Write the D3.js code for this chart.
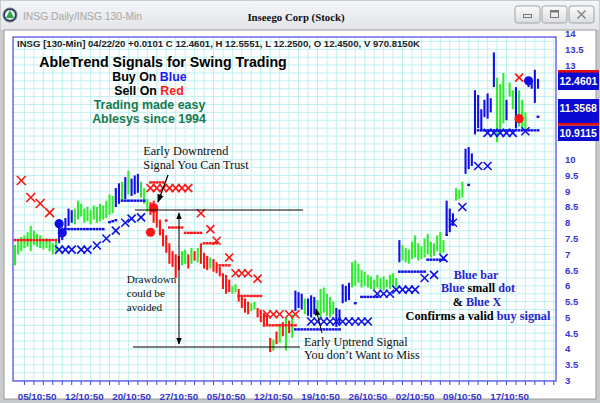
<!DOCTYPE html>
<html><head><meta charset="utf-8">
<script src="https://cdn.jsdelivr.net/npm/d3@7"></script>
<style>body{margin:0;background:#fff}svg{display:block}</style>
</head><body>
<svg id="c" width="600" height="403"></svg>
<script>
// ---------- DATA ----------
const barColors = ("gggggggggg ggggbbbbbg gggggggggg ggbbgbgbbb gggrrrrrrr rrrggrgrgr rrgrrrrrrg grrrrggrrr rrgrgrgrgb bbgbbbgggg ggbbbbbggg gggggggggg ggbggggggg gggggggbbb gggbbbbbbb bbbgggbggb gggbbbb").replace(/ /g,"");
const barLow = [6.65,7.00,7.10,7.20,7.25,7.10,7.30,7.25,7.20,7.15,
 7.20,7.10,7.00,7.10,7.35,7.45,7.80,7.90,8.00,7.95,
 8.10,8.20,8.00,8.05,7.95,8.10,8.00,8.05,8.10,8.15,
 8.25,8.30,8.50,8.60,8.70,8.75,8.90,8.85,8.90,8.95,
 8.80,8.60,8.35,8.25,8.00,7.85,7.60,7.25,7.05,6.70,
 6.60,6.25,6.50,6.65,6.70,6.55,6.70,6.80,6.75,6.70,
 6.55,6.50,6.55,6.45,6.40,6.30,5.90,5.75,5.80,5.75,
 5.80,5.50,5.30,5.15,5.10,5.20,5.25,5.00,4.85,4.70,
 4.75,3.90,3.95,4.15,4.20,4.40,3.95,4.50,4.35,5.20,
 5.30,5.25,5.10,5.05,5.00,5.10,5.05,5.00,5.15,5.05,
 5.00,5.10,4.70,4.80,5.45,5.50,5.55,5.95,6.00,6.10,
 5.95,6.00,5.95,5.90,5.85,5.95,5.90,5.85,5.95,5.90,
 6.00,5.95,6.75,6.80,6.75,6.70,6.85,6.90,6.80,6.85,
 6.90,7.00,6.90,6.95,7.10,7.00,7.05,7.65,7.70,7.90,
 8.70,8.75,8.80,9.55,9.70,9.80,10.80,11.00,10.90,11.35,
 11.30,11.50,12.30,10.55,10.90,11.15,11.25,12.00,11.60,11.00,
 11.05,11.00,10.95,12.30,12.25,11.80,12.25];
const barHigh = [7.30,7.45,7.55,7.60,7.70,7.90,7.75,7.65,7.60,7.50,
 7.50,7.45,7.35,7.45,8.05,7.85,8.15,8.45,8.40,8.45,
 8.70,8.60,8.45,8.50,8.40,8.55,8.50,8.60,8.55,8.70,
 8.90,8.85,9.10,9.25,9.30,9.45,9.65,9.40,9.50,9.55,
 9.30,9.10,8.75,8.65,8.70,8.55,8.10,7.80,7.60,7.35,
 7.10,7.00,6.95,7.10,7.15,7.00,7.20,7.10,7.20,7.35,
 7.05,6.95,6.90,6.85,6.75,6.60,6.40,6.35,6.20,6.00,
 6.05,5.90,5.70,5.60,5.50,5.45,5.50,5.30,5.25,5.15,
 5.05,4.35,4.30,4.55,4.80,4.85,5.00,4.90,5.10,5.85,
 5.80,5.75,5.60,5.60,5.70,5.65,5.55,5.90,5.95,5.75,
 5.65,5.50,5.30,5.25,6.05,6.00,6.10,6.75,6.80,6.70,
 6.50,6.45,6.35,6.30,6.20,6.35,6.25,6.30,6.20,6.35,
 6.40,6.25,7.45,7.30,7.20,7.15,7.40,7.60,7.35,7.25,
 7.50,7.65,7.40,7.35,7.60,7.70,7.45,8.70,8.45,8.30,
 9.10,9.05,9.30,10.35,10.40,10.20,12.20,12.05,11.60,11.90,
 12.10,11.95,13.40,12.60,12.40,12.75,11.90,12.45,12.20,12.30,
 12.20,11.90,11.50,12.55,12.50,12.85,12.56];
// small stop dots: [fromBar, toBar, level]
const redDotRuns = [[0,13,7.45],[43,47,9.28],[48,48,8.07],[49,53,7.85],[54,59,7.68],[60,64,7.35],[65,68,6.65],[71,78,5.68],[80,89,4.75]];
const blueDotRuns = [[16,28,7.80],[30,30,8.02],[31,31,8.05],[32,32,8.08],[34,41,8.70],[89,103,4.62],[108,108,5.45],[110,115,5.65],[122,130,6.45],[131,136,6.83],[137,137,7.62],[144,144,9.20],[147,166,10.93],[166,166,11.36]];
// X stops: [bar, level]
const redX = [[2,9.34],[5,8.80],[8,8.61],[11,8.32],[43,9.10],[45,9.10],[47,9.10],[49,9.10],[51,9.10],[53,9.10],[55,9.10],
 [59,8.30],[62,7.80],[64,7.43],[68,6.90],[70,6.40],[72,6.40],[74,6.40],[77,6.23],[80,5.10],[82,5.10],[84,5.10],[87,5.10],[89,5.10],[160,12.60]];
const blueX = [[14,7.15],[16,7.15],[18,7.15],[21,7.15],[23,7.15],[26,7.28],[29,7.50],[32,7.75],[35,8.00],[37,8.13],[40,8.17],
 [94,4.87],[96,4.87],[98,4.87],[100,4.87],[102,4.87],[104,4.87],[106,4.87],[108,4.87],[110,4.87],[112,4.87],
 [115,5.75],[117,5.75],[119,5.75],[121,5.88],[123,5.88],[125,5.88],[127,5.88],[130,6.25],[133,6.35],[136,6.88],
 [139,8.00],[142,8.50],[147,9.80],[150,9.80],[150,10.85],[152,10.85],[154,10.85],[156,10.85],[158,10.85],[162,10.90]];
// big signal dots: [bar, level]
const redBig = [[44,8.47],[43,7.70],[160,11.30]];
const blueBig = [[14,7.97],[15,7.68],[163,12.50]];
// axes
const priceTicks = d3.range(3, 14.01, 0.5);
const dateTickBars = [7,22,37,52,67,82,97,112,127,142,157];
const dateTickLabels = ["05/10:50","12/10:50","20/10:50","27/10:50","05/10:50","12/10:50","19/10:50","26/10:50","02/10:50","09/10:50","17/10:50"];
const lastValues = [{v:"12.4601",y0:72,y1:90,red:70,fill:"#fff"},{v:"11.3568",y0:99,y1:123,ty:108,fill:"#fffbe0"},{v:"10.9115",y0:125.5,y1:141,red:123,fill:"#fff"}];

// ---------- DRAW ----------
const svg = d3.select("#c");
const P = {l:13, r:556, t:37, b:381};
const x = d3.scaleLinear().domain([0,166]).range([15,538]);
const y = d3.scaleLinear().domain([3,14]).range([380.5,33.5]);
const COL = {g:"#30ea30", b:"#1010e6", r:"#ff1414"};
const defs = svg.append("defs");
const grad = defs.append("linearGradient").attr("id","tb").attr("x1",0).attr("y1",0).attr("x2",0).attr("y2",1);
grad.append("stop").attr("offset","0%").attr("stop-color","#f4f5f7");
grad.append("stop").attr("offset","100%").attr("stop-color","#e2e4e8");
const bgrad = defs.append("linearGradient").attr("id","btn").attr("x1",0).attr("y1",0).attr("x2",0).attr("y2",1);
bgrad.append("stop").attr("offset","0%").attr("stop-color","#fbfbfb");
bgrad.append("stop").attr("offset","100%").attr("stop-color","#dcdde0");
defs.append("marker").attr("id","ah").attr("viewBox","0 0 10 10").attr("refX",9).attr("refY",5)
  .attr("markerWidth",7).attr("markerHeight",7).attr("orient","auto-start-reverse")
  .append("path").attr("d","M0,1 L10,5 L0,9 Z").attr("fill","#000");
defs.append("clipPath").attr("id","pc").append("rect").attr("x",P.l).attr("y",P.t).attr("width",P.r-P.l).attr("height",P.b-P.t);

// window chrome
svg.append("rect").attr("width",600).attr("height",403).attr("fill","#c9cacc");
svg.append("rect").attr("x",1).attr("y",1).attr("width",598).attr("height",29).attr("fill","url(#tb)");
svg.append("rect").attr("x",4).attr("y",30).attr("width",592).attr("height",369).attr("fill","#fff").attr("stroke","#9a9a9a").attr("stroke-width",1);
// icon
svg.append("circle").attr("cx",10).attr("cy",15).attr("r",7).attr("fill","#2c3e56").attr("stroke","#6a7a8a");
svg.append("circle").attr("cx",10).attr("cy",15).attr("r",5).attr("fill","#e8eef4");
svg.append("path").attr("d","M10,10 L14,18 L6,18 Z").attr("fill","#2aa84a");
svg.append("text").attr("x",23).attr("y",20).attr("font-family","Liberation Sans, Arial").attr("font-size",10.3)
  .attr("fill","#a6a6a6").text("INSG Daily/INSG 130-Min");
svg.append("text").attr("x",296).attr("y",21).attr("text-anchor","middle").attr("font-family","Liberation Serif, Times New Roman")
  .attr("font-weight","bold").attr("font-size",10.8).attr("fill","#111").text("Inseego Corp (Stock)");
// buttons
[[515,"min"],[542,"max"],[569,"close"]].forEach(([bx,k])=>{
  svg.append("rect").attr("x",bx).attr("y",6).attr("width",25).attr("height",17).attr("rx",2.5)
    .attr("fill","url(#btn)").attr("stroke","#9fa3a8");
  const cx=bx+12.5, cy=14.5;
  if(k==="min") svg.append("rect").attr("x",cx-4).attr("y",cy).attr("width",8).attr("height",3).attr("fill","none").attr("stroke","#777");
  if(k==="max"){ svg.append("rect").attr("x",cx-4).attr("y",cy-4).attr("width",8).attr("height",7).attr("fill","none").attr("stroke","#777");
    svg.append("rect").attr("x",cx-4).attr("y",cy-4).attr("width",8).attr("height",2).attr("fill","#777");}
  if(k==="close") svg.append("path").attr("d",`M${cx-4},${cy-4}L${cx+4},${cy+4}M${cx+4},${cy-4}L${cx-4},${cy+4}`).attr("stroke","#888").attr("stroke-width",1.6);
});

// grid
const g = svg.append("g").attr("clip-path","url(#pc)");
g.selectAll(".hg").data(d3.range(3,14.01,0.25)).join("line")
  .attr("x1",P.l).attr("x2",P.r).attr("y1",d=>y(d)).attr("y2",d=>y(d)).attr("stroke","#bff0f0").attr("stroke-width",1);
g.selectAll(".vg").data(d3.range(3,172,3)).join("line")
  .attr("x1",d=>x(d)).attr("x2",d=>x(d)).attr("y1",P.t).attr("y2",P.b).attr("stroke","#bff0f0").attr("stroke-width",1);

// bars
const bars = barLow.map((l,i)=>({i, l, h:barHigh[i], c:barColors[i]}));
g.selectAll(".bar").data(bars).join("line")
  .attr("x1",d=>x(d.i)).attr("x2",d=>x(d.i)).attr("y1",d=>y(d.l)).attr("y2",d=>y(d.h))
  .attr("stroke",d=>COL[d.c]).attr("stroke-width",2.1);

// small dots
function expand(runs){const o=[];runs.forEach(([a,b,v])=>{for(let i=a;i<=b;i++)o.push([i,v]);});return o;}
g.selectAll(".rd").data(expand(redDotRuns)).join("rect")
  .attr("x",d=>x(d[0])-1.4).attr("y",d=>y(d[1])-1.2).attr("width",2.8).attr("height",2.4).attr("fill",COL.r);
g.selectAll(".bd").data(expand(blueDotRuns)).join("rect")
  .attr("x",d=>x(d[0])-1.4).attr("y",d=>y(d[1])-1.2).attr("width",2.8).attr("height",2.4).attr("fill",COL.b);
// X marks
function xPath(d,s){const cx=x(d[0]),cy=y(d[1]);return `M${cx-s},${cy-s}L${cx+s},${cy+s}M${cx+s},${cy-s}L${cx-s},${cy+s}`;}
g.selectAll(".rx").data(redX).join("path").attr("d",d=>xPath(d,d[0]<12?4.5:4.0)).attr("stroke",COL.r).attr("stroke-width",1.6).attr("fill","none");
g.selectAll(".bx").data(blueX).join("path").attr("d",d=>xPath(d,4.0)).attr("stroke",COL.b).attr("stroke-width",1.6).attr("fill","none");
// big dots
g.selectAll(".rb").data(redBig).join("circle").attr("cx",d=>x(d[0])).attr("cy",d=>y(d[1])).attr("r",4.6).attr("fill",COL.r);
g.selectAll(".bb").data(blueBig).join("circle").attr("cx",d=>x(d[0])).attr("cy",d=>y(d[1])).attr("r",4.6).attr("fill",COL.b);

// plot frame
svg.append("rect").attr("x",P.l).attr("y",P.t).attr("width",P.r-P.l).attr("height",P.b-P.t)
  .attr("fill","none").attr("stroke","#4646e0").attr("stroke-width",1.2);
// bottom ticks
svg.selectAll(".bt").data(d3.range(3,172,3).filter(d=>x(d)<P.r)).join("line")
  .attr("x1",d=>x(d)).attr("x2",d=>x(d)).attr("y1",P.b).attr("y2",P.b+4).attr("stroke","#4646e0");
// date labels
svg.selectAll(".dl").data(dateTickBars).join("text")
  .attr("x",d=>x(d)).attr("y",400).attr("text-anchor","middle")
  .attr("font-family","Liberation Sans, Arial").attr("font-weight","bold").attr("font-size",9.8).attr("fill","#3535d0")
  .text((d,i)=>dateTickLabels[i]);
// price labels (those hidden behind last-value boxes are not drawn)
const visibleTicks = priceTicks.filter(d=>!lastValues.some(b=>y(d)>b.y0-6 && y(d)<b.y1+6));
svg.selectAll(".pl").data(visibleTicks).join("text")
  .attr("x",565).attr("y",d=>y(d)).attr("dy","0.36em")
  .attr("font-family","Liberation Sans, Arial").attr("font-weight","bold").attr("font-size",9.6).attr("fill","#3535d0")
  .text(d=>d3.format("")(d));
// last-value boxes
lastValues.forEach(b=>{
  svg.append("rect").attr("x",558).attr("y",b.y0).attr("width",41).attr("height",b.y1-b.y0).attr("fill","#0a0ad0");
  if(b.red) svg.append("rect").attr("x",558).attr("y",b.red).attr("width",41).attr("height",2.6).attr("fill","#e01010");
  svg.append("text").attr("x",559.5).attr("y",b.ty||((b.y0+b.y1)/2)).attr("dy","0.36em")
    .attr("font-family","Liberation Sans, Arial").attr("font-weight","bold").attr("font-size",10.5).attr("fill",b.fill).text(b.v);
});

// header info
svg.append("text").attr("x",17).attr("y",47.3).attr("font-family","Liberation Sans, Arial").attr("font-weight","bold")
  .attr("font-size",8.2).attr("fill","#222").attr("textLength",403).attr("lengthAdjust","spacingAndGlyphs")
  .text("INSG [130-Min] 04/22/20  +0.0101 C 12.4601, H 12.5551, L 12.2500, O 12.4500, V 970.8150K");

// legend text block
const sans = "Liberation Sans, Arial";
svg.append("text").attr("x",163).attr("y",66.8).attr("text-anchor","middle").attr("font-family",sans).attr("font-weight","bold")
  .attr("font-size",14.2).attr("fill","#000").text("AbleTrend Signals for Swing Trading");
function multi(xc,yb,parts,size,family){
  const t=svg.append("text").attr("x",xc).attr("y",yb).attr("text-anchor","middle").attr("font-family",family)
    .attr("font-weight","bold").attr("font-size",size);
  parts.forEach(([s,c])=>t.append("tspan").attr("fill",c).text(s));
}
multi(149.5,80.8,[["Buy On ","#000"],["Blue","#1a1af5"]],12.4,sans);
multi(149,94.9,[["Sell On ","#000"],["Red","#ff1a1a"]],12.4,sans);
multi(149.5,108.9,[["Trading made easy","#157a52"]],12.4,sans);
multi(149,122.9,[["Ablesys since 1994","#157a52"]],12.4,sans);

// annotations
const serif = "Liberation Serif, Times New Roman";
function note(xx,yy,s,size){svg.append("text").attr("x",xx).attr("y",yy).attr("font-family",serif).attr("font-size",size).attr("fill","#111").text(s);}
note(143.3,155.2,"Early Downtrend",12.3);
note(143.3,168.8,"Signal You Can Trust",12.3);
note(126.7,283,"Drawdown",11.2);
note(126.7,296.8,"could be",11.2);
note(126.7,310.6,"avoided",11.2);
note(304,345.6,"Early Uptrend Signal",12.2);
note(304,359.3,"You don\u2019t Want to Miss",12.2);
const BL="#2626d0";
multi(476,278.8,[["Blue bar",BL]],12.1,serif);
multi(478,292.4,[["Blue",BL],[" small ","#000"],["dot",BL]],12.1,serif);
multi(477,306,[["& ","#000"],["Blue X",BL]],12.1,serif);
multi(478,319.6,[["Confirms a valid ","#000"],["buy signal",BL]],12.3,serif);

// lines & arrows
svg.append("line").attr("x1",135).attr("x2",303).attr("y1",210).attr("y2",210).attr("stroke","#000").attr("stroke-width",1);
svg.append("line").attr("x1",133).attr("x2",300).attr("y1",347).attr("y2",347).attr("stroke","#000").attr("stroke-width",1);
svg.append("line").attr("x1",179).attr("x2",179).attr("y1",213).attr("y2",344).attr("stroke","#000").attr("stroke-width",1)
  .attr("marker-start","url(#ah)").attr("marker-end","url(#ah)");
svg.append("line").attr("x1",168).attr("y1",175).attr("x2",158).attr("y2",202).attr("stroke","#000").attr("stroke-width",1.2).attr("marker-end","url(#ah)");
svg.append("line").attr("x1",322).attr("y1",333).attr("x2",316).attr("y2",309).attr("stroke","#000").attr("stroke-width",1).attr("marker-end","url(#ah)");
</script>
</body></html>
